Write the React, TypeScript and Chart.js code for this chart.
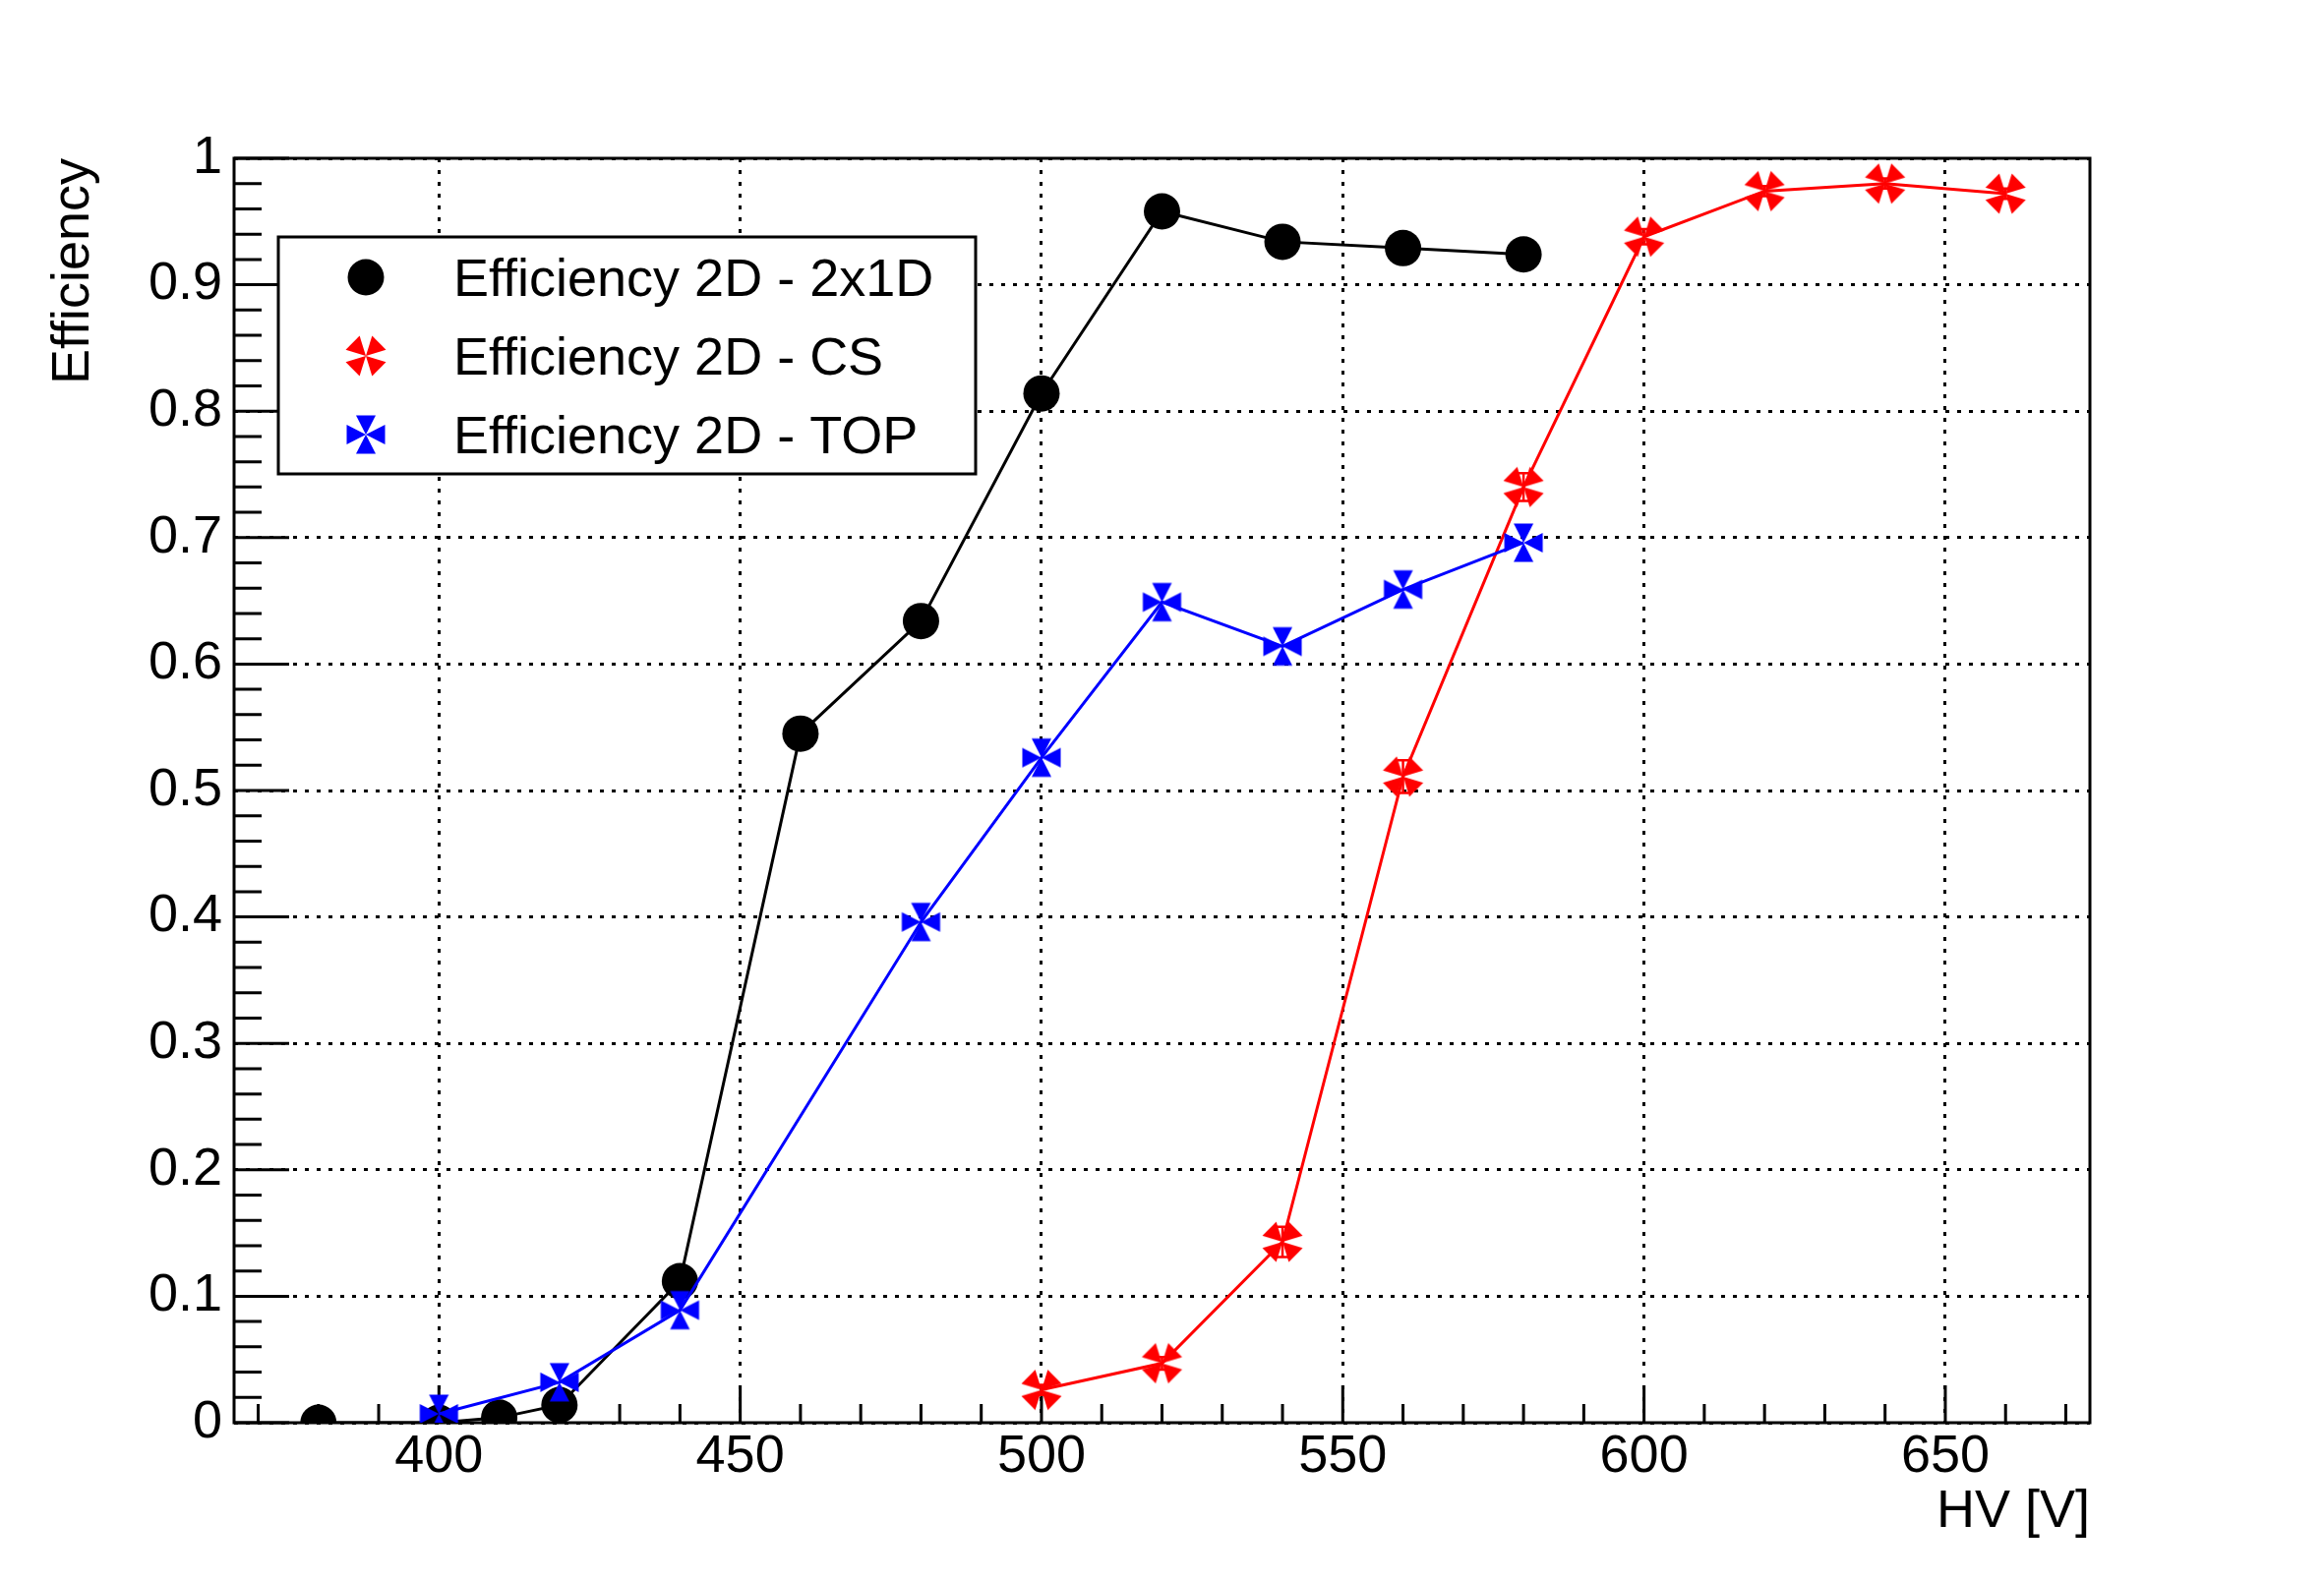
import React, { useEffect, useRef } from "react";
import { Chart, registerables } from "chart.js";

Chart.register(...registerables);

// ---------- data ----------
const seriesLabels = ["Efficiency 2D - 2x1D", "Efficiency 2D - CS", "Efficiency 2D - TOP"];

const hvBlack = [380, 400, 410, 420, 440, 460, 480, 500, 520, 540, 560, 580];
const effBlack = [0.0, 0.0, 0.004, 0.014, 0.112, 0.545, 0.634, 0.814, 0.958, 0.934, 0.929, 0.924];

const hvRed = [500, 520, 540, 560, 580, 600, 620, 640, 660];
const effRed = [0.026, 0.047, 0.143, 0.511, 0.740, 0.938, 0.974, 0.980, 0.972];
const errRed = [0.004, 0.005, 0.012, 0.013, 0.011, 0.006, 0.004, 0.004, 0.004];

const hvBlue = [400, 420, 440, 480, 500, 520, 540, 560, 580];
const effBlue = [0.007, 0.032, 0.089, 0.396, 0.526, 0.649, 0.614, 0.659, 0.696];

const xTickValues = [400, 450, 500, 550, 600, 650];
const yTickValues = [0, 0.1, 0.2, 0.3, 0.4, 0.5, 0.6, 0.7, 0.8, 0.9, 1];
const xRange = [366, 674];
const yRange = [0, 1];
const xMinorStep = 10;
const yMinorStep = 0.02;

const xTitle = "HV [V]";
const yTitle = "Efficiency";

// ---------- styling / layout ----------
const W = 2363;
const H = 1608;
const AREA = { left: 238, top: 161, right: 2125, bottom: 1447 };
const FONT = '"Liberation Sans", Arial, Helvetica, sans-serif';
const FS = 54;
const RED = "#ff0000";
const BLUE = "#0000ff";
const BLACK = "#000000";
const LEGEND = { x: 283, y: 241, w: 709, h: 241, markerX: 372, textX: 461, row0: 41, rowStep: 80 };

function makeFourTriangles(s: number, h: number, rot: number, color: string): HTMLCanvasElement {
  const size = 2 * Math.ceil(s * 1.3) + 4;
  const c = document.createElement("canvas");
  c.width = size;
  c.height = size;
  const ctx = c.getContext("2d");
  if (ctx) {
    ctx.translate(size / 2, size / 2);
    ctx.rotate(rot);
    ctx.fillStyle = color;
    for (let k = 0; k < 4; k++) {
      ctx.beginPath();
      ctx.moveTo(0, 0);
      ctx.lineTo(s, -h);
      ctx.lineTo(s, h);
      ctx.closePath();
      ctx.fill();
      ctx.rotate(Math.PI / 2);
    }
  }
  return c;
}

const framePlugin = {
  id: "rootFrame",
  beforeDatasetsDraw(chart: any) {
    const { ctx, chartArea: a, scales } = chart;
    const x = scales.x;
    const y = scales.y;
    ctx.save();
    ctx.setLineDash([]);
    ctx.strokeStyle = BLACK;
    ctx.lineWidth = 3;
    ctx.beginPath();
    const nY = Math.round((yRange[1] - yRange[0]) / yMinorStep);
    for (let i = 0; i <= nY; i++) {
      const v = yRange[0] + i * yMinorStep;
      const py = y.getPixelForValue(v);
      const len = i % 5 === 0 ? 56 : 28;
      ctx.moveTo(a.left, py);
      ctx.lineTo(a.left + len, py);
    }
    const startX = Math.ceil(xRange[0] / xMinorStep) * xMinorStep;
    for (let v = startX; v <= xRange[1]; v += xMinorStep) {
      const px = x.getPixelForValue(v);
      const len = v % 50 === 0 ? 38 : 19;
      ctx.moveTo(px, a.bottom);
      ctx.lineTo(px, a.bottom - len);
    }
    ctx.stroke();
    ctx.strokeRect(a.left, a.top, a.right - a.left, a.bottom - a.top);
    ctx.restore();
  },
};

const errorBarPlugin = {
  id: "errorBars",
  afterDatasetsDraw(chart: any) {
    const { ctx, scales } = chart;
    const x = scales.x;
    const y = scales.y;
    ctx.save();
    ctx.strokeStyle = RED;
    ctx.lineWidth = 2.5;
    hvRed.forEach((hv, i) => {
      const px = x.getPixelForValue(hv);
      const y1 = y.getPixelForValue(effRed[i] + errRed[i]);
      const y2 = y.getPixelForValue(effRed[i] - errRed[i]);
      ctx.beginPath();
      ctx.moveTo(px, y1);
      ctx.lineTo(px, y2);
      ctx.moveTo(px - 6, y1);
      ctx.lineTo(px + 6, y1);
      ctx.moveTo(px - 6, y2);
      ctx.lineTo(px + 6, y2);
      ctx.stroke();
    });
    ctx.restore();
  },
};

const legendPlugin = {
  id: "rootLegend",
  afterDraw(chart: any) {
    const ctx = chart.ctx;
    ctx.save();
    ctx.setLineDash([]);
    ctx.fillStyle = "#ffffff";
    ctx.fillRect(LEGEND.x, LEGEND.y, LEGEND.w, LEGEND.h);
    ctx.strokeStyle = BLACK;
    ctx.lineWidth = 3;
    ctx.strokeRect(LEGEND.x, LEGEND.y, LEGEND.w, LEGEND.h);
    chart.data.datasets.forEach((ds: any, i: number) => {
      const cy = LEGEND.y + LEGEND.row0 + i * LEGEND.rowStep;
      const st = ds.pointStyle;
      if (st === "circle") {
        ctx.fillStyle = ds.pointBackgroundColor;
        ctx.beginPath();
        ctx.arc(LEGEND.markerX, cy, ds.pointRadius, 0, Math.PI * 2);
        ctx.fill();
      } else {
        ctx.drawImage(st, LEGEND.markerX - st.width / 2, cy - st.height / 2);
      }
      ctx.fillStyle = BLACK;
      ctx.font = `${FS}px ${FONT}`;
      ctx.textAlign = "left";
      ctx.textBaseline = "alphabetic";
      ctx.fillText(ds.label, LEGEND.textX, cy + 19);
    });
    ctx.restore();
  },
};

export default function App() {
  const canvasRef = useRef<HTMLCanvasElement | null>(null);

  useEffect(() => {
    const canvas = canvasRef.current;
    if (!canvas) return;
    document.body.style.margin = "0";

    const redMarker = makeFourTriangles(19, 10, Math.PI / 4, RED);
    const blueMarker = makeFourTriangles(19.5, 10, 0, BLUE);

    const chart = new Chart(canvas, {
      type: "line",
      data: {
        datasets: [
          {
            label: seriesLabels[0],
            data: hvBlack.map((v, i) => ({ x: v, y: effBlack[i] })),
            borderColor: BLACK,
            borderWidth: 3,
            pointStyle: "circle",
            pointRadius: 18.5,
            pointBackgroundColor: BLACK,
            pointBorderWidth: 0,
            tension: 0,
            order: 2,
          },
          {
            label: seriesLabels[1],
            data: hvRed.map((v, i) => ({ x: v, y: effRed[i] })),
            borderColor: RED,
            borderWidth: 3,
            pointStyle: redMarker,
            pointRadius: 18,
            pointBackgroundColor: RED,
            pointBorderWidth: 0,
            tension: 0,
            order: 1,
          },
          {
            label: seriesLabels[2],
            data: hvBlue.map((v, i) => ({ x: v, y: effBlue[i] })),
            borderColor: BLUE,
            borderWidth: 3,
            pointStyle: blueMarker,
            pointRadius: 18,
            pointBackgroundColor: BLUE,
            pointBorderWidth: 0,
            tension: 0,
            order: 0,
          },
        ] as any,
      },
      options: {
        responsive: false,
        animation: false,
        devicePixelRatio: 1,
        events: [],
        layout: { padding: { left: 0, top: AREA.top, right: W - AREA.right, bottom: 0 } },
        plugins: {
          legend: { display: false },
          tooltip: { enabled: false },
        },
        scales: {
          x: {
            type: "linear",
            min: xRange[0],
            max: xRange[1],
            afterBuildTicks: (scale: any) => {
              scale.ticks = xTickValues.map((v) => ({ value: v }));
            },
            afterFit: (scale: any) => {
              scale.height = H - AREA.bottom;
            },
            grid: { display: true, color: BLACK, lineWidth: 3, drawTicks: false },
            border: { display: false, dash: [4, 8] },
            ticks: {
              color: BLACK,
              font: { family: FONT, size: FS },
              padding: 3,
              maxRotation: 0,
              autoSkip: false,
              callback: (v: any) => String(v),
            },
            title: {
              display: true,
              text: xTitle,
              align: "end",
              color: BLACK,
              font: { family: FONT, size: FS },
              padding: { top: 0, bottom: 37 },
            },
          },
          y: {
            type: "linear",
            min: yRange[0],
            max: yRange[1],
            afterBuildTicks: (scale: any) => {
              scale.ticks = yTickValues.map((v) => ({ value: v }));
            },
            afterFit: (scale: any) => {
              scale.width = AREA.left;
            },
            grid: { display: true, color: BLACK, lineWidth: 3, drawTicks: false },
            border: { display: false, dash: [4, 8] },
            ticks: {
              color: BLACK,
              font: { family: FONT, size: FS },
              padding: 12,
              autoSkip: false,
              callback: (v: any) => {
                const n = Number(v);
                if (Math.abs(n) < 1e-9) return "0";
                if (Math.abs(n - 1) < 1e-9) return "1";
                return n.toFixed(1);
              },
            },
            title: {
              display: true,
              text: yTitle,
              align: "end",
              color: BLACK,
              font: { family: FONT, size: FS },
              padding: { top: 43, bottom: 0 },
            },
          },
        },
      } as any,
      plugins: [framePlugin, errorBarPlugin, legendPlugin],
    });

    return () => {
      chart.destroy();
    };
  }, []);

  return (
    <div style={{ position: "absolute", left: 0, top: 0, width: W, height: H, background: "#ffffff" }}>
      <canvas ref={canvasRef} width={W} height={H} style={{ display: "block", width: W, height: H }} />
    </div>
  );
}
